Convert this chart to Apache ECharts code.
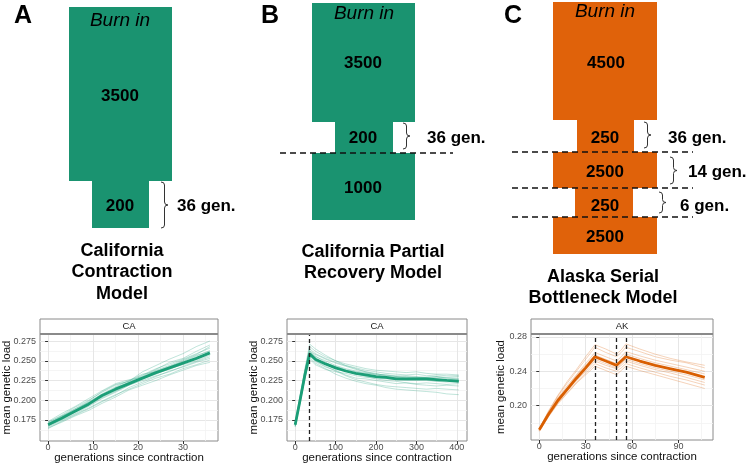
<!DOCTYPE html>
<html><head><meta charset="utf-8">
<script src="https://cdn.jsdelivr.net/npm/echarts@6.0.0/dist/echarts.min.js"></script>
<style>html,body{margin:0;padding:0;background:#fff}#c{width:750px;height:465px}</style>
</head><body><div id="c"></div>
<script>
// ---------- data ----------
const xA = [0,3,6,9,12,15,18,21,24,27,30,33,36];
const meanA = [0.169,0.177,0.186,0.195,0.206,0.214,0.221,0.228,0.235,0.241,0.247,0.253,0.260];
const repsA = [
 [0.172,0.181,0.191,0.200,0.210,0.219,0.224,0.232,0.240,0.246,0.252,0.259,0.266],
 [0.166,0.174,0.182,0.190,0.199,0.207,0.214,0.221,0.228,0.233,0.240,0.245,0.251],
 [0.170,0.179,0.189,0.199,0.211,0.220,0.224,0.236,0.244,0.252,0.259,0.268,0.275],
 [0.168,0.175,0.183,0.192,0.202,0.210,0.219,0.225,0.231,0.236,0.243,0.249,0.255],
 [0.171,0.178,0.188,0.197,0.207,0.216,0.223,0.231,0.239,0.248,0.253,0.262,0.270],
 [0.165,0.172,0.180,0.187,0.196,0.204,0.213,0.219,0.225,0.232,0.238,0.244,0.248],
 [0.173,0.183,0.192,0.202,0.212,0.221,0.226,0.229,0.237,0.243,0.249,0.256,0.263],
 [0.167,0.176,0.185,0.193,0.203,0.211,0.219,0.227,0.233,0.240,0.245,0.250,0.257],
 [0.170,0.180,0.187,0.196,0.205,0.215,0.222,0.230,0.238,0.244,0.251,0.258,0.268],
 [0.164,0.173,0.181,0.189,0.198,0.206,0.216,0.223,0.230,0.237,0.242,0.248,0.253],
 [0.169,0.177,0.187,0.198,0.208,0.217,0.225,0.233,0.236,0.242,0.250,0.257,0.262],
 [0.172,0.180,0.189,0.197,0.204,0.212,0.220,0.228,0.234,0.239,0.246,0.254,0.259]
];
const xB = [0,12,24,36,50,75,100,125,150,175,200,225,250,275,300,325,350,375,405];
const meanB = [0.169,0.200,0.232,0.259,0.252,0.246,0.241,0.237,0.234,0.232,0.230,0.229,0.227,0.227,0.227,0.227,0.226,0.225,0.224];
const repsB = [
 [0.171,0.204,0.238,0.268,0.262,0.255,0.250,0.246,0.243,0.240,0.238,0.237,0.236,0.235,0.236,0.234,0.233,0.233,0.232],
 [0.167,0.197,0.228,0.254,0.247,0.240,0.233,0.228,0.224,0.221,0.219,0.216,0.214,0.213,0.212,0.211,0.210,0.208,0.207],
 [0.170,0.202,0.234,0.262,0.258,0.252,0.247,0.243,0.239,0.236,0.234,0.231,0.230,0.228,0.229,0.228,0.229,0.228,0.228],
 [0.168,0.198,0.230,0.256,0.249,0.242,0.238,0.232,0.228,0.227,0.225,0.223,0.221,0.222,0.220,0.219,0.218,0.219,0.218],
 [0.172,0.206,0.240,0.271,0.265,0.257,0.250,0.244,0.240,0.236,0.233,0.232,0.230,0.231,0.230,0.229,0.230,0.229,0.230],
 [0.166,0.196,0.227,0.252,0.245,0.239,0.236,0.234,0.231,0.229,0.228,0.227,0.226,0.225,0.225,0.226,0.224,0.225,0.224],
 [0.169,0.201,0.233,0.261,0.255,0.250,0.244,0.240,0.237,0.235,0.232,0.230,0.229,0.229,0.228,0.229,0.230,0.228,0.227],
 [0.170,0.199,0.231,0.257,0.250,0.243,0.237,0.231,0.226,0.223,0.220,0.218,0.217,0.216,0.215,0.214,0.215,0.214,0.213],
 [0.168,0.203,0.236,0.265,0.259,0.253,0.248,0.244,0.241,0.238,0.236,0.234,0.233,0.232,0.233,0.231,0.232,0.231,0.231],
 [0.171,0.200,0.232,0.258,0.251,0.246,0.242,0.238,0.234,0.230,0.227,0.225,0.224,0.222,0.221,0.222,0.221,0.220,0.221],
 [0.169,0.202,0.235,0.263,0.256,0.248,0.241,0.237,0.233,0.231,0.229,0.228,0.228,0.227,0.226,0.225,0.224,0.223,0.224],
 [0.167,0.198,0.229,0.255,0.252,0.247,0.243,0.239,0.236,0.234,0.233,0.232,0.231,0.230,0.229,0.228,0.227,0.226,0.226]
];
const xC = [0,6,12,18,24,30,36,43,50,53,56,65,75,85,95,107];
const meanC = [0.172,0.190,0.206,0.219,0.232,0.244,0.257,0.252,0.247,0.252,0.257,0.252,0.247,0.243,0.239,0.233];
const repsC = [
 [0.173,0.193,0.211,0.226,0.240,0.254,0.268,0.262,0.257,0.262,0.268,0.263,0.257,0.253,0.250,0.244],
 [0.171,0.188,0.203,0.215,0.227,0.238,0.249,0.244,0.240,0.244,0.249,0.244,0.239,0.234,0.230,0.224],
 [0.172,0.192,0.209,0.223,0.236,0.249,0.262,0.257,0.252,0.257,0.263,0.258,0.253,0.249,0.245,0.240],
 [0.170,0.187,0.202,0.214,0.226,0.236,0.246,0.241,0.236,0.241,0.246,0.241,0.236,0.231,0.226,0.220],
 [0.173,0.194,0.212,0.228,0.242,0.257,0.271,0.266,0.260,0.265,0.272,0.266,0.260,0.255,0.251,0.247],
 [0.171,0.189,0.205,0.218,0.230,0.242,0.254,0.249,0.244,0.249,0.254,0.249,0.244,0.240,0.236,0.230],
 [0.172,0.191,0.207,0.221,0.235,0.247,0.259,0.254,0.249,0.254,0.260,0.255,0.250,0.246,0.242,0.237],
 [0.171,0.190,0.204,0.217,0.229,0.240,0.252,0.247,0.243,0.247,0.252,0.247,0.242,0.238,0.233,0.227]
];
const vlinesB = [36];
const vlinesC = [36, 50, 56];
const xTicksA = [0,10,20,30], xMinorA = [5,15,25,35];
const xTicksB = [0,100,200,300,400], xMinorB = [50,150,250,350];
const xTicksC = [0,30,60,90], xMinorC = [15,45,75,105];
const yTicksAB = [0.175,0.200,0.225,0.250,0.275], yMinorAB = [0.1625,0.1875,0.2125,0.2375,0.2625];
const yTicksC = [0.20,0.24,0.28], yMinorC = [0.18,0.22,0.26];
const stripLabels = ['CA','CA','AK'];
const popA = ['3500','200'];
const popB = ['3500','200','1000'];
const popC = ['4500','250','2500','250','2500'];
const genA = ['36 gen.'];
const genB = ['36 gen.'];
const genC = ['36 gen.','14 gen.','6 gen.'];
const titles = [['California','Contraction','Model'],['California Partial','Recovery Model'],['Alaska Serial','Bottleneck Model']];
const letters = ['A','B','C'];

// ---------- styling ----------
const FONT = 'Liberation Sans, Arial, Helvetica, sans-serif';
const GREEN = '#1b9e77', ORANGE = '#d95f02';
const BOX_GREEN = '#1a9370', BOX_ORANGE = '#e0620a';

const panels = [
  {left:40, width:178, top:334, height:107, xmin:-1.8, xmax:37.8, ymin:0.1483, ymax:0.2839, xt:xTicksA, xm:xMinorA, yt:yTicksAB, ym:yMinorAB, dec:3, gap:27, color:GREEN},
  {left:287, width:180, top:334, height:107, xmin:-20.3, xmax:425.3, ymin:0.1483, ymax:0.2839, xt:xTicksB, xm:xMinorB, yt:yTicksAB, ym:yMinorAB, dec:3, gap:27, color:GREEN},
  {left:531, width:182, top:334, height:106, xmin:-5.35, xmax:112.35, ymin:0.160, ymax:0.2835, xt:xTicksC, xm:xMinorC, yt:yTicksC, ym:yMinorC, dec:2, gap:24, color:ORANGE}
];

const grids = [], xAxes = [], yAxes = [], series = [];
panels.forEach((p, i) => {
  grids.push({left:p.left, top:p.top, width:p.width, height:p.height, show:true, borderColor:'#8a8a8a', borderWidth:1, backgroundColor:'#fff', containLabel:false, outerBoundsMode:'none'});
  xAxes.push({gridIndex:i, type:'value', min:p.xmin, max:p.xmax, position:'bottom',
    axisLine:{show:false}, axisTick:{show:true, length:3, lineStyle:{color:'#333', width:1}, customValues:p.xt},
    axisLabel:{customValues:p.xt, color:'#4d4d4d', fontSize:9, fontFamily:FONT, margin:2},
    splitLine:{show:true, lineStyle:{color:'#e6e6e6', width:1}},
    name:'generations since contraction', nameLocation:'middle', nameGap:11, nameMoveOverlap:false,
    nameTextStyle:{fontSize:11.5, color:'#111', fontFamily:FONT, verticalAlign:'top'}});
  xAxes.push({gridIndex:i, type:'value', min:p.xmin, max:p.xmax, position:'bottom',
    axisLine:{show:false}, axisTick:{show:false, customValues:p.xm}, axisLabel:{show:false, customValues:p.xm},
    splitLine:{show:true, lineStyle:{color:'#f3f3f3', width:0.8}}});
  yAxes.push({gridIndex:i, type:'value', min:p.ymin, max:p.ymax,
    axisLine:{show:false}, axisTick:{show:true, length:3, lineStyle:{color:'#333', width:1}, customValues:p.yt},
    axisLabel:{customValues:p.yt, color:'#4d4d4d', fontSize:9, fontFamily:FONT, margin:4, formatter:v => v.toFixed(p.dec)},
    splitLine:{show:true, lineStyle:{color:'#e6e6e6', width:1}},
    name:'mean genetic load', nameLocation:'middle', nameGap:p.gap, nameMoveOverlap:false,
    nameTextStyle:{fontSize:11.5, color:'#111', fontFamily:FONT}});
  yAxes.push({gridIndex:i, type:'value', min:p.ymin, max:p.ymax,
    axisLine:{show:false}, axisTick:{show:false, customValues:p.ym}, axisLabel:{show:false, customValues:p.ym},
    splitLine:{show:true, lineStyle:{color:'#f3f3f3', width:0.8}}});
});

function addPanel(i, xs, mean, reps, vlines) {
  const c = panels[i].color;
  reps.forEach(r => series.push({type:'line', xAxisIndex:2*i, yAxisIndex:2*i, symbol:'none', silent:true, z:2,
    data: xs.map((x, k) => [x, r[k]]), lineStyle:{color:c, width:0.8, opacity:0.35}}));
  const s = {type:'line', xAxisIndex:2*i, yAxisIndex:2*i, symbol:'none', silent:true, z:4,
    data: xs.map((x, k) => [x, mean[k]]), lineStyle:{color:c, width:2.8}};
  if (vlines.length) s.markLine = {silent:true, symbol:'none', label:{show:false}, animation:false,
    lineStyle:{type:[4,3], color:'#222', width:1.3}, data: vlines.map(v => ({xAxis:v}))};
  series.push(s);
}
addPanel(0, xA, meanA, repsA, []);
addPanel(1, xB, meanB, repsB, vlinesB);
addPanel(2, xC, meanC, repsC, vlinesC);

// ---------- diagram graphics ----------
const g = [];
function rect(x0, y0, x1, y1, fill) { g.push({type:'rect', shape:{x:x0, y:y0, width:x1-x0, height:y1-y0}, style:{fill}, silent:true}); }
function txt(x, y, t, size, opts) {
  g.push({type:'text', x, y, silent:true, z:10, style:Object.assign({text:t, fill:'#000', font:(opts && opts.italic ? 'italic ' : 'bold ') + size + 'px ' + FONT, textAlign:'center', textVerticalAlign:'middle'}, opts && opts.style)});
}
const BR = {stroke:'#333', lineWidth:1, fill:null};
function bez(x1, y1, cx, cy, x2, y2) { g.push({type:'bezierCurve', silent:true, z:10, shape:{x1, y1, x2, y2, cpx1:cx, cpy1:cy}, style:BR}); }
function seg(x1, y1, x2, y2, style) { g.push({type:'line', silent:true, z:10, shape:{x1, y1, x2, y2}, style:style || BR}); }
function brace(x, y0, y1) {
  const m = (y0 + y1) / 2, w = 3.5;
  bez(x, y0, x + w, y0, x + w, y0 + 3);
  seg(x + w, y0 + 3, x + w, m - 3);
  bez(x + w, m - 3, x + w, m, x + 2 * w, m);
  bez(x + 2 * w, m, x + w, m, x + w, m + 3);
  seg(x + w, m + 3, x + w, y1 - 3);
  bez(x + w, y1 - 3, x + w, y1, x, y1);
}
function dash(x0, x1, y) { seg(x0, y, x1, y, {stroke:'#111', lineWidth:1.6, lineDash:[6,4]}); }

// A
rect(69, 7, 172, 181, BOX_GREEN); rect(92, 181, 149, 228, BOX_GREEN);
txt(120, 21, 'Burn in', 19, {italic:true});
txt(120, 96, popA[0], 17); txt(120, 206, popA[1], 17);
brace(161, 182, 228); txt(177, 206, genA[0], 17, {style:{textAlign:'left'}});
// B
rect(312, 3, 415, 122, BOX_GREEN); rect(335, 122, 393, 153, BOX_GREEN); rect(312, 153, 415, 220, BOX_GREEN);
txt(364, 14, 'Burn in', 19, {italic:true});
txt(363, 63, popB[0], 17); txt(363, 138, popB[1], 17); txt(363, 188, popB[2], 17);
dash(280, 453, 153);
brace(403, 123, 149); txt(427, 138, genB[0], 17, {style:{textAlign:'left'}});
// C
rect(553, 2, 657, 120, BOX_ORANGE); rect(577, 120, 634, 152, BOX_ORANGE); rect(553, 152, 657, 188, BOX_ORANGE);
rect(575, 188, 633, 217, BOX_ORANGE); rect(553, 217, 657, 254, BOX_ORANGE);
txt(605, 12, 'Burn in', 19, {italic:true});
txt(606, 63, popC[0], 17); txt(605, 138, popC[1], 17); txt(605, 172, popC[2], 17);
txt(605, 206, popC[3], 17); txt(605, 237, popC[4], 17);
dash(512, 693, 152); dash(512, 693, 188); dash(512, 693, 217);
brace(644, 122, 148); txt(668, 138, genC[0], 17, {style:{textAlign:'left'}});
brace(670, 157, 184); txt(688, 172, genC[1], 17, {style:{textAlign:'left'}});
brace(659, 192, 213); txt(680, 206, genC[2], 17, {style:{textAlign:'left'}});
// titles
const titlePos = [[122, 251], [373, 252], [603, 277]];
titles.forEach((lines, i) => lines.forEach((l, k) => txt(titlePos[i][0], titlePos[i][1] + k * 21.5, l, 18)));
// letters
const letterPos = [[23, 16], [270, 16], [513, 16]];
letters.forEach((l, i) => txt(letterPos[i][0], letterPos[i][1], l, 25));
// strips
panels.forEach((p, i) => {
  g.push({type:'rect', silent:true, z:5, shape:{x:p.left, y:319, width:p.width, height:15}, style:{fill:'#fff', stroke:'#8a8a8a', lineWidth:1}});
  g.push({type:'line', silent:true, z:6, shape:{x1:p.left, y1:334, x2:p.left + p.width, y2:334}, style:{stroke:'#8a8a8a', lineWidth:2}});
  g.push({type:'text', silent:true, z:6, x:p.left + p.width / 2, y:326.5, style:{text:stripLabels[i], fill:'#1a1a1a', font:'9.5px ' + FONT, textAlign:'center', textVerticalAlign:'middle'}});
});

const chart = echarts.init(document.getElementById('c'), null, {renderer:'canvas'});
chart.setOption({
  animation:false, backgroundColor:'#fff',
  textStyle:{fontFamily:FONT},
  grid:grids, xAxis:xAxes, yAxis:yAxes, series:series, graphic:g
});
</script></body></html>
